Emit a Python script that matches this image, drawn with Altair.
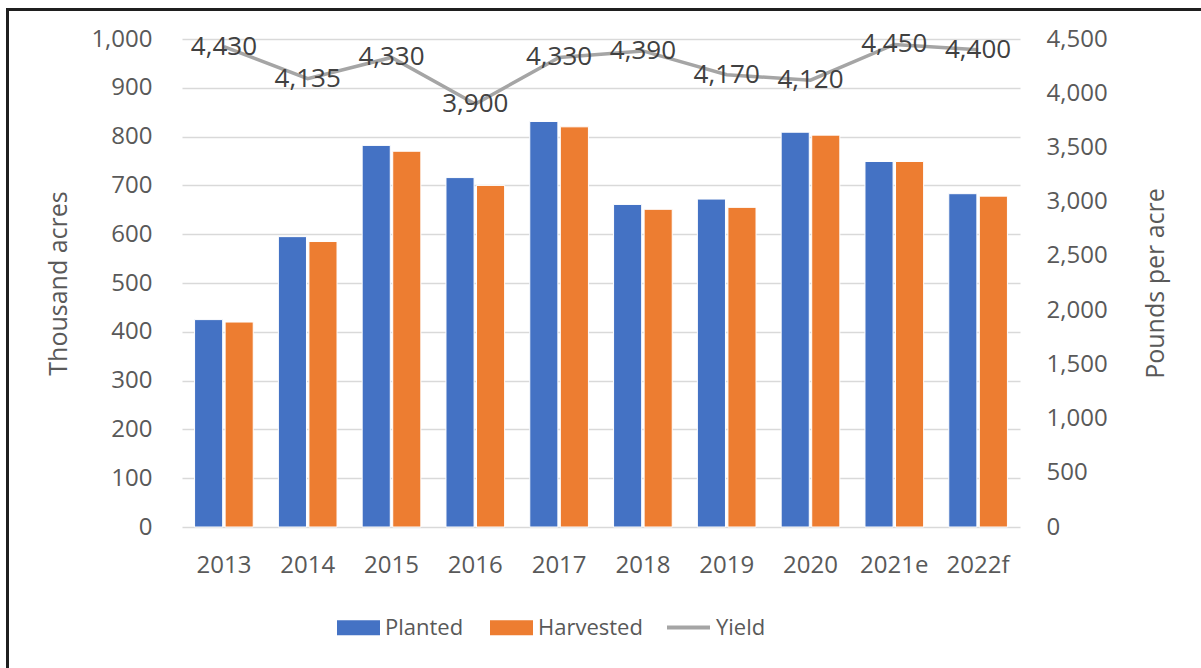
import altair as alt
import pandas as pd

# Acreage (thousand acres) and yield (pounds per acre) by marketing year
years = ["2013", "2014", "2015", "2016", "2017", "2018", "2019", "2020", "2021e", "2022f"]
planted = [425, 595, 782, 716, 831, 661, 672, 809, 749, 683]
harvested = [420, 585, 770, 700, 820, 651, 655, 803, 749, 678]
yield_lbs = [4430, 4135, 4330, 3900, 4330, 4390, 4170, 4120, 4450, 4400]
left_ticks = [0, 100, 200, 300, 400, 500, 600, 700, 800, 900, 1000]
right_ticks = [0, 500, 1000, 1500, 2000, 2500, 3000, 3500, 4000, 4500]

series_names = ["Planted", "Harvested"]
series_colors = ["#4472C4", "#ED7D31"]
line_color = "#A5A5A5"
axis_grey = "#595959"
label_grey = "#404040"
FONT = "Open Sans"

bars_df = pd.DataFrame(
    [{"year": y, "series": "Planted", "value": v} for y, v in zip(years, planted)]
    + [{"year": y, "series": "Harvested", "value": v} for y, v in zip(years, harvested)]
)
yield_df = pd.DataFrame({"year": years, "yield": yield_lbs, "series": "Yield"})
frame_df = pd.DataFrame({"k": [0]})

x_enc = alt.X(
    "year:N",
    sort=years,
    title=None,
    scale=alt.Scale(paddingInner=0.3, paddingOuter=0.15),
    axis=alt.Axis(
        domain=False, ticks=False, tickSize=0, labelAngle=0,
        labelFont=FONT, labelFontSize=24, labelColor=axis_grey,
        labelBaseline="middle", labelPadding=38, grid=False,
    ),
)

bars = alt.Chart(bars_df).mark_bar(stroke="white", strokeWidth=1).encode(
    x=x_enc,
    xOffset=alt.XOffset("series:N", sort=series_names,
                        scale=alt.Scale(paddingInner=0.08, paddingOuter=0)),
    y=alt.Y(
        "value:Q",
        scale=alt.Scale(domain=[0, 1000], nice=False),
        axis=alt.Axis(
            orient="left", title="Thousand acres", values=left_ticks,
            format=",d", formatType="number", domain=False, ticks=False, tickSize=0,
            labelFont=FONT, labelFontSize=24, labelColor=axis_grey, labelPadding=30,
            grid=True, gridColor="#D9D9D9", gridWidth=1.5,
            titleFont=FONT, titleFontSize=25, titleFontWeight="normal", titleColor=axis_grey,
            titleAngle=270, titleX=-124, titleY=244, titleAlign="center", titleBaseline="middle",
        ),
    ),
    color=alt.Color(
        "series:N",
        scale=alt.Scale(domain=series_names, range=series_colors),
        legend=alt.Legend(
            title=None, orient="none", direction="horizontal",
            legendX=155, legendY=567,
            symbolType="M-1,-0.35L1,-0.35L1,0.35L-1,0.35Z", symbolSize=1849,
            symbolStrokeWidth=0,
            labelFont=FONT, labelFontSize=22, labelColor=axis_grey, labelOffset=5,
            columnPadding=26,
        ),
    ),
)

line = alt.Chart(yield_df).mark_line(strokeWidth=3.5).encode(
    x=alt.X("year:N", sort=years),
    y=alt.Y(
        "yield:Q",
        scale=alt.Scale(domain=[0, 4500], nice=False),
        axis=alt.Axis(
            orient="right", title="Pounds per acre", values=right_ticks,
            format=",d", formatType="number", domain=False, ticks=False, tickSize=0,
            grid=False,
            labelFont=FONT, labelFontSize=24, labelColor=axis_grey, labelPadding=26,
            titleFont=FONT, titleFontSize=25, titleFontWeight="normal", titleColor=axis_grey,
            titleAngle=270, titleX=135, titleY=244, titleAlign="center", titleBaseline="middle",
        ),
    ),
    stroke=alt.Stroke(
        "series:N",
        scale=alt.Scale(domain=["Yield"], range=[line_color]),
        legend=alt.Legend(
            title=None, orient="none", direction="horizontal",
            legendX=483, legendY=565,
            symbolType="M-1,0L1,0", symbolSize=1849, symbolStrokeWidth=4,
            labelFont=FONT, labelFontSize=22, labelColor=axis_grey, labelOffset=4,
        ),
    ),
)

labels = alt.Chart(yield_df).mark_text(
    font=FONT, fontSize=26, color=label_grey, align="center", baseline="middle"
).encode(
    x=alt.X("year:N", sort=years),
    y=alt.Y("yield:Q", scale=alt.Scale(domain=[0, 4500], nice=False), axis=None),
    text=alt.Text("yield:Q", format=","),
)

# Frame around the figure: top and left edges
frame_top = alt.Chart(frame_df).mark_rule(color="#1f1f1f", strokeWidth=3).encode(
    x=alt.value(-176), x2=alt.value(1030), y=alt.value(-29.5)
)
frame_left = alt.Chart(frame_df).mark_rule(color="#1f1f1f", strokeWidth=3).encode(
    x=alt.value(-174.5), y=alt.value(-31), y2=alt.value(640)
)

chart = (
    alt.layer(bars, line, labels, frame_top, frame_left)
    .resolve_scale(y="independent", color="independent")
    .properties(
        width=838,
        height=488,
        autosize=alt.AutoSizeParams(type="none"),
        padding={"left": 182, "top": 39, "right": 181, "bottom": 141},
        background="white",
    )
    .configure_view(stroke=None)
)

chart.save("out.html", embed_options={"renderer": "svg", "actions": False})
